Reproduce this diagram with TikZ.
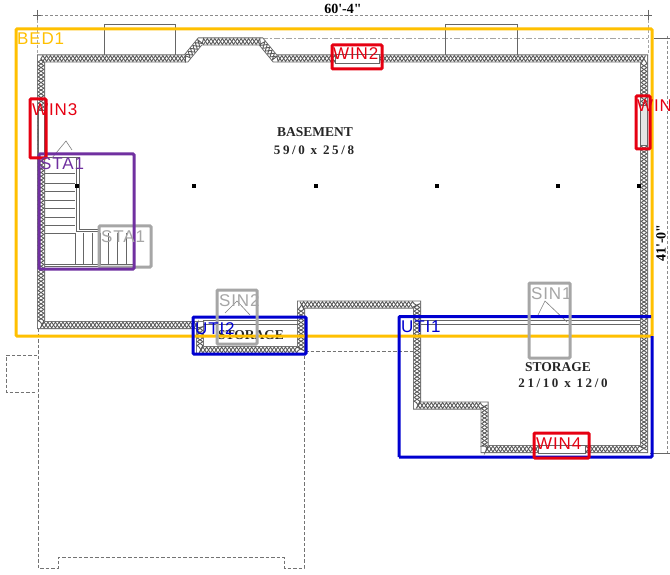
\documentclass[tikz,border=0pt]{standalone}
\usepackage{fontspec}
\setmainfont{Liberation Serif}
\newfontfamily\tagfont[LetterSpace=5]{Liberation Sans}
\newfontfamily\dimfont{Liberation Serif}
\newfontfamily\numfont[LetterSpace=20]{Liberation Serif}
\usetikzlibrary{decorations.pathmorphing}
\definecolor{bedc}{HTML}{FFC000}
\definecolor{winc}{HTML}{E60012}
\definecolor{stac}{HTML}{7030A0}
\definecolor{fixc}{HTML}{A6A6A6}
\definecolor{utic}{HTML}{0000D0}
\tikzset{
  x=1pt,y=-1pt,
  wallA/.style={line width=8pt,draw=black!60,line join=miter},
  wallB/.style={line width=6.2pt,draw=white,line join=miter},
  wallC/.style={draw=black!65,line width=.9pt,decorate,decoration={zigzag,segment length=7.5pt,amplitude=2.9pt}},
  wallD/.style={draw=black!65,line width=.9pt,decorate,decoration={zigzag,segment length=7.5pt,amplitude=2.9pt,mirror}},
  fine/.style={draw=black!60,line width=.7pt},
  pale/.style={draw=black!35,line width=.6pt},
  dimline/.style={draw=black!45,line width=.7pt,densely dashed},
  dashout/.style={draw=black!55,line width=.8pt,dash pattern=on 3.5pt off 2pt},
  roomtext/.style={inner sep=0pt,text=black!85},
  box/.style={line width=3pt,rounded corners=1pt},
  tag/.style={font=\tagfont\fontsize{17}{17}\selectfont,anchor=base west,inner sep=0pt},
  post/.style={fill=black,inner sep=0pt,minimum size=4pt,rectangle}
}
\newcommand{\wallpath}{(41,58.5) -- (186,58.5) -- (200,41.5) -- (261,41.5) -- (275,58.5) -- (644,58.5) -- (644,449) -- (484.5,449) -- (484.5,405.5) -- (417,405.5) -- (417,304.5) -- (301,304.5) -- (301,350) -- (200,350) -- (200,325) -- (41,325) -- cycle}
\begin{document}
\begin{tikzpicture}
\useasboundingbox (0,0) rectangle (670,575);
\fill[white] (0,0) rectangle (670,575);

% dimension lines
\draw[dimline] (35,15) -- (648,15);
\draw[fine] (37,10) -- (37,20) (33,15) -- (41,15);
\draw[fine] (648,10) -- (648,20) (644,15) -- (652,15);
\draw[pale,densely dashed] (37,20) -- (37,55);
\draw[pale,densely dashed] (648,20) -- (648,55);
\draw[pale,dash pattern=on 6pt off 2pt on 2pt off 2pt] (262,38) -- (648,38);
\draw[dimline] (667,36) -- (667,455);
\draw[fine] (654,38) -- (670,38);
\draw[fine] (650,453) -- (670,453);
\node[font=\dimfont\bfseries\fontsize{14}{14}\selectfont,inner sep=0pt] (wdim) at (343,9) {60'-4"};
\node[font=\dimfont\bfseries\fontsize{14}{14}\selectfont,inner sep=0pt,rotate=90] (hdim) at (661,243) {41'-0"};

% bays
\draw[fine] (104,55) -- (104,24) -- (175,24) -- (175,55);
\draw[fine] (445,55) -- (445,24) -- (517,24) -- (517,55);

% dashed outline of the lower level
\draw[dashout] (38,328) -- (38,568) -- (58,568) -- (58,557) -- (284,557) -- (284,568) -- (304,568) -- (304,353);
\draw[dashout] (37,355) -- (6,355) -- (6,392) -- (37,392);
\draw[dashout] (305,351) -- (414,351);

% walls
\draw[wallA] \wallpath;
\draw[wallB] \wallpath;
\draw[wallC] \wallpath;
\draw[wallD] \wallpath;

% inner partitions
\draw[fine] (421,320) -- (640,320) (421,324) -- (640,324);
\draw[fine] (203,320) -- (298,320) (203,324) -- (298,324);
\fill[white] (204,329) rectangle (297,346);

% stair
\draw[fine] (76,157) -- (76,231) -- (100,231) (79,157) -- (79,229) -- (100,229);
\draw[fine] (45,157) -- (79,157);
\foreach \yy in {173,183,191,200,208,217,225,233} \draw[fine] (45,\yy) -- (75,\yy);
\foreach \xx in {75,83,92,100,108,117,126,133} \draw[fine] (\xx,233) -- (\xx,264);
\draw[fine] (45,264) -- (133,264) (45,266) -- (133,266);

% doors
\draw[pale,draw=black!50] (52,158) -- (66,141) -- (72,150);
\draw[pale,draw=black!50] (225,313) -- (237,301) -- (250,315);
\draw[pale,draw=black!50] (538,315) -- (545,301) -- (567,322);

% windows in the walls
\draw[fine,fill=white] (38,110) rectangle (44,158);
\draw[fine,fill=black!10] (640,105) rectangle (647,145);
\draw[fine,fill=white] (335,54) rectangle (379,63);
\draw[fine,fill=white] (538,445) rectangle (585,453);

% posts
\foreach \xx/\nn in {77/a,194/b,316/c,437/d,558/e,639/f} \node[post] (post\nn) at (\xx,186) {};

% room texts
\node[roomtext,font=\bfseries\fontsize{13.5}{13.5}\selectfont] (t1) at (315,132) {BASEMENT};
\node[roomtext,font=\numfont\bfseries\fontsize{13}{13}\selectfont] (t2) at (314,150) {59/0 x 25/8};
\node[roomtext,font=\bfseries\fontsize{13.5}{13.5}\selectfont] (t3) at (558,367) {STORAGE};
\node[roomtext,font=\numfont\bfseries\fontsize{13}{13}\selectfont] (t4) at (563,383) {21/10 x 12/0};
\node[roomtext,font=\bfseries\fontsize{13.5}{13.5}\selectfont] (t5) at (251,335) {STORAGE};

% annotation boxes
\draw[box,draw=bedc] (16,29) rectangle (652,336);
\draw[box,draw=utic] (399,457) -- (399,316.5) -- (651,316.5);
\draw[box,draw=utic] (399,457) -- (652,457) -- (652,336);
\draw[box,draw=utic] (193,317) rectangle (306,354);
\draw[box,draw=fixc] (99,226) rectangle (151,267);
\draw[box,draw=fixc] (217,290) rectangle (257,344);
\draw[box,draw=fixc] (529,283) rectangle (570,358);
\draw[box,draw=stac] (39,154) rectangle (134,269);
\draw[box,draw=winc] (30,99) rectangle (46,158);
\draw[box,draw=winc] (332,45) rectangle (382,69);
\draw[box,draw=winc] (636,96) rectangle (650,149);
\draw[box,draw=winc] (534,433) rectangle (589,458);

% annotation labels
\node[tag,text=bedc] (lbed) at (17,45) {BED1};
\node[tag,text=winc] (lwin3) at (32,116) {WIN3};
\node[tag,text=winc] (lwin2) at (333,60) {WIN2};
\node[tag,text=winc] (lwin) at (637,112) {WIN};
\node[tag,text=winc] (lwin4) at (536,449) {WIN4};
\node[tag,text=stac] (lsta) at (40,170) {STA1};
\node[tag,text=fixc] (lstb) at (101,243) {STA1};
\node[tag,text=fixc] (lsin2) at (219,306) {SIN2};
\node[tag,text=fixc] (lsin1) at (531,299) {SIN1};
\node[tag,text=utic] (luti2) at (195,334) {UTI2};
\node[tag,text=utic] (luti1) at (401,332) {UTI1};
\end{tikzpicture}
\end{document}
